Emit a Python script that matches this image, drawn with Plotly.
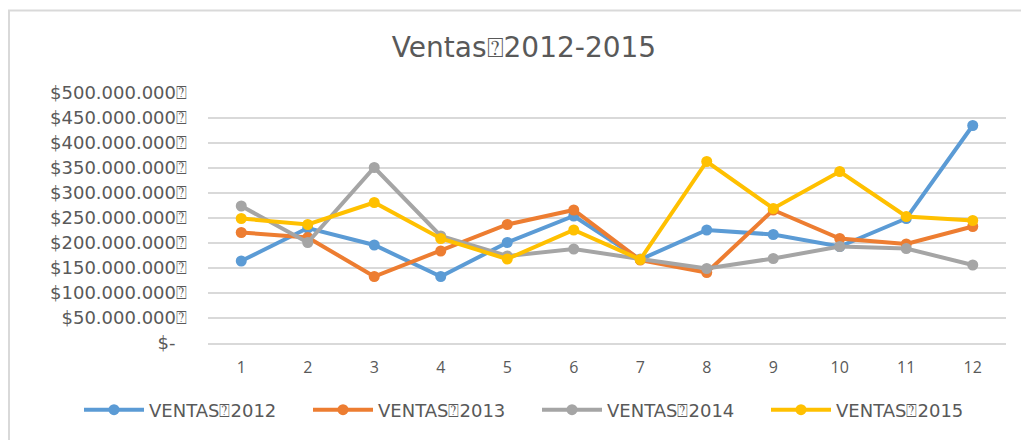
import plotly.graph_objects as go

months = [1, 2, 3, 4, 5, 6, 7, 8, 9, 10, 11, 12]
ventas_2012 = [164e6, 230e6, 196e6, 133e6, 201e6, 254e6, 167e6, 226e6, 217e6, 193e6, 249e6, 435e6]
ventas_2013 = [221e6, 211e6, 133e6, 184e6, 237e6, 266e6, 166e6, 141e6, 266e6, 209e6, 198e6, 233e6]
ventas_2014 = [274e6, 201e6, 351e6, 214e6, 174e6, 188e6, 168e6, 149e6, 169e6, 193e6, 189e6, 156e6]
ventas_2015 = [249e6, 237e6, 281e6, 209e6, 168e6, 226e6, 167e6, 363e6, 269e6, 343e6, 253e6, 245e6]
series_names = ["VENTAS\u23702012", "VENTAS\u23702013", "VENTAS\u23702014", "VENTAS\u23702015"]
colors = ["#5B9BD5", "#ED7D31", "#A5A5A5", "#FFC000"]
tick_vals = [0, 50e6, 100e6, 150e6, 200e6, 250e6, 300e6, 350e6, 400e6, 450e6, 500e6]
tick_text = ["$-\u00a0\u00a0", "$50.000.000\u2370", "$100.000.000\u2370", "$150.000.000\u2370",
             "$200.000.000\u2370", "$250.000.000\u2370", "$300.000.000\u2370", "$350.000.000\u2370",
             "$400.000.000\u2370", "$450.000.000\u2370", "$500.000.000\u2370"]
title_text = "Ventas\u23702012-2015"

wide_font = "DejaVu Sans, Open Sans, sans-serif"
text_color = "#595959"

# page body has an 8px margin, so the figure is laid out 8px smaller
OFF = 8
W, H = 1029 - OFF, 440 - OFF
L, R, T, B = 200, 23, 85, 97
pw, ph = W - L - R, H - T - B

fig = go.Figure()
for name, vals, col in zip(series_names, [ventas_2012, ventas_2013, ventas_2014, ventas_2015], colors):
    fig.add_trace(go.Scatter(
        x=[str(m) for m in months], y=vals, name=name, mode="lines+markers",
        line=dict(color=col, width=4),
        marker=dict(color=col, size=11),
    ))

fig.update_layout(
    width=W, height=H,
    margin=dict(l=L, r=R, t=T, b=B, autoexpand=False),
    paper_bgcolor="white", plot_bgcolor="white",
    title=dict(text=title_text, x=(524 - OFF) / W, xanchor="center", y=1 - (47 - OFF) / H, yanchor="middle",
               font=dict(family=wide_font, size=28, color=text_color)),
    font=dict(family=wide_font, size=17, color=text_color),
    showlegend=True,
    legend=dict(orientation="h", x=(71 - L) / pw, xanchor="left",
                y=-((410 - OFF) - (T + ph)) / ph, yanchor="middle",
                font=dict(family=wide_font, size=18, color=text_color),
                itemwidth=60, entrywidth=154, bgcolor="rgba(0,0,0,0)"),
    xaxis=dict(type="category", range=[-0.5, len(months) - 0.5], showgrid=False, showline=True,
               linecolor="#D9D9D9", linewidth=1.5, ticks="", ticklabelstandoff=9,
               tickfont=dict(family="Open Sans, sans-serif", size=16, color=text_color),
               zeroline=False, automargin=False),
    yaxis=dict(range=[0, 500e6], tickvals=tick_vals, ticktext=tick_text, showgrid=True,
               gridcolor="#D9D9D9", gridwidth=1.5, zeroline=False, showline=False,
               tickfont=dict(family=wide_font, size=18, color=text_color), ticklabelstandoff=20,
               automargin=False),
)

fig.add_shape(type="rect", xref="paper", yref="paper",
              x0=(1 - L) / pw, x1=(W + 20 - L) / pw,
              y0=-(H + 20 - (T + ph)) / ph, y1=((T + ph) - 2.5) / ph,
              line=dict(color="#D9D9D9", width=2), fillcolor="rgba(0,0,0,0)", layer="below")

fig.write_html("out.html")
